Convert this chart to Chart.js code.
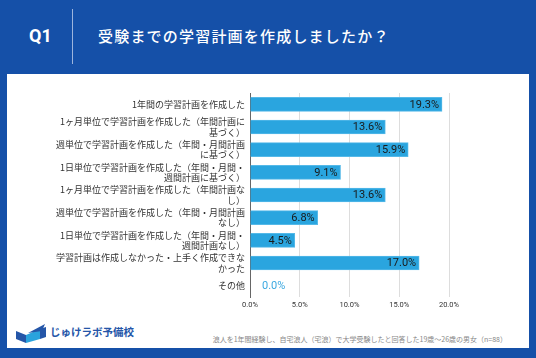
<!DOCTYPE html>
<html><head><meta charset="utf-8">
<script src="https://cdn.jsdelivr.net/npm/chart.js@4/dist/chart.umd.min.js"></script>
<style>
html,body{margin:0;padding:0;}
body{width:536px;height:358px;background:#1550A8;position:relative;overflow:hidden;font-family:"Noto Sans CJK JP","Noto Sans",sans-serif;}
#panel{position:absolute;left:7px;top:74px;width:522px;height:274px;background:#fff;}
#q{position:absolute;left:29px;top:25px;color:#fff;font:bold 18px "Roboto","Noto Sans",sans-serif;}
#vl{position:absolute;left:72px;top:9px;width:1px;height:55px;background:#9db5dd;}
#title{position:absolute;left:98px;top:25px;color:#fff;font-size:15px;font-weight:500;letter-spacing:1.2px;}
#logotext{position:absolute;left:50px;top:324px;color:#2456a8;font-size:10.5px;font-weight:bold;}
#src{position:absolute;right:29px;top:334px;color:#888;font-size:7px;}
#c{position:absolute;left:0;top:0;}
</style></head>
<body>
<div id="panel"></div>
<div id="q">Q1</div>
<div id="vl"></div>
<div id="title">受験までの学習計画を作成しましたか？</div>
<svg viewBox="0 0 40 24" width="40" height="24" style="position:absolute;left:13px;top:320px">
  <path d="M3 11 L13 15 L13 23 L3 19 Z" fill="#2456a8"/>
  <path d="M13 15 L27 9 L27 19 L13 23 Z" fill="#2aa3dd"/>
  <path d="M15 13 L32 4 L29 11 Z" fill="#2456a8"/>
  <path d="M27 9 L33 7 L33 17 L27 19 Z" fill="#2456a8"/>
</svg>
<div id="logotext">じゅけラボ予備校</div>
<div id="src">浪人を1年間経験し、自宅浪人（宅浪）で大学受験したと回答した19歳〜26歳の男女（n=88）</div>
<canvas id="c" width="536" height="358"></canvas>
<script>
const categories = [
  "1年間の学習計画を作成した",
  ["1ヶ月単位で学習計画を作成した（年間計画に","基づく）"],
  ["週単位で学習計画を作成した（年間・月間計画","に基づく）"],
  ["1日単位で学習計画を作成した（年間・月間・","週間計画に基づく）"],
  ["1ヶ月単位で学習計画を作成した（年間計画な","し）"],
  ["週単位で学習計画を作成した（年間・月間計画","なし）"],
  ["1日単位で学習計画を作成した（年間・月間・","週間計画なし）"],
  ["学習計画は作成しなかった・上手く作成できな","かった"],
  "その他"
];
const values = [19.3, 13.6, 15.9, 9.1, 13.6, 6.8, 4.5, 17.0, 0.0];
const xTicks = [0, 5, 10, 15, 20];

const valueLabels = {
  id: 'valueLabels',
  afterDatasetsDraw(chart) {
    const ctx = chart.ctx;
    const meta = chart.getDatasetMeta(0);
    ctx.save();
    ctx.font = '11px Roboto, "Noto Sans", sans-serif';
    ctx.textBaseline = 'middle';
    meta.data.forEach((bar, i) => {
      const v = values[i];
      const txt = v.toFixed(1) + '%';
      if (v > 0) {
        ctx.fillStyle = '#1a1a1a';
        ctx.textAlign = 'right';
        ctx.fillText(txt, bar.x - 3, bar.y + 0.5);
      } else {
        ctx.fillStyle = '#3aa8e0';
        ctx.textAlign = 'left';
        ctx.fillText(txt, bar.x + 12, bar.y + 0.5);
      }
    });
    ctx.restore();
  }
};

new Chart(document.getElementById('c'), {
  type: 'bar',
  data: {
    labels: categories,
    datasets: [{
      data: values,
      backgroundColor: '#2AA5DF',
      borderColor: '#55B9E8',
      borderWidth: 1,
      barThickness: 14
    }]
  },
  options: {
    indexAxis: 'y',
    responsive: false,
    animation: false,
    layout: { padding: { top: 93, right: 87, bottom: 44, left: 0 } },
    plugins: { legend: { display: false }, tooltip: { enabled: false } },
    scales: {
      x: {
        min: 0, max: 20,
        afterBuildTicks(axis) { axis.ticks = xTicks.map(v => ({ value: v })); },
        ticks: {
          callback: v => v.toFixed(1) + '%',
          font: { size: 7.5, family: 'Roboto, "Noto Sans", sans-serif' },
          color: '#333',
          padding: 4
        },
        grid: { color: '#dddddd', drawTicks: false },
        border: { display: false }
      },
      y: {
        afterFit(axis) { axis.width = 250; },
        ticks: {
          font: { size: 9, family: '"Noto Sans CJK JP", sans-serif', lineHeight: 1.15 },
          color: '#333',
          padding: 5,
          autoSkip: false
        },
        grid: { display: false, drawTicks: false },
        border: { display: true, color: '#666', width: 1 }
      }
    }
  },
  plugins: [valueLabels]
});
</script>
</body></html>
